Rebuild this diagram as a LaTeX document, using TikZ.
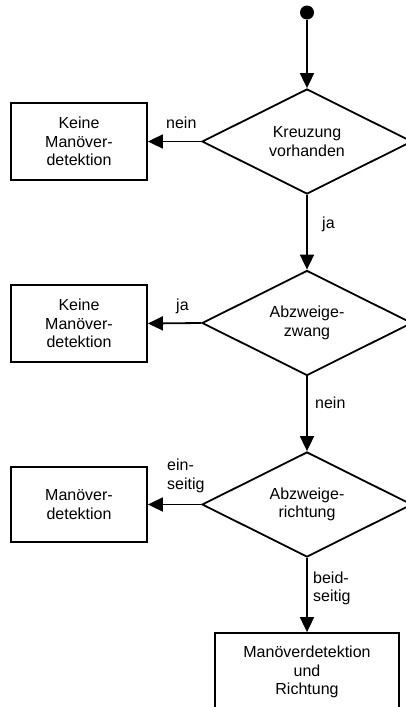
\documentclass[tikz,border=0pt]{standalone}
\usepackage{fontspec}
\setmainfont{Liberation Sans}
\usetikzlibrary{shapes.geometric,arrows.meta}

\tikzset{
  flow/.style={line width=1.8pt},
  decision/.style={flow, draw, diamond, aspect=2, minimum width=210pt,
    minimum height=105pt, inner sep=0pt, align=center},
  action/.style={flow, draw, rectangle, inner sep=0pt, align=center},
  conn/.style={flow, -{Triangle[length=15pt,width=14pt]}},
  lbl/.style={inner sep=0pt, align=left},
}

\begin{document}
\begin{tikzpicture}[x=1pt,y=-1pt,
  every node/.append style={font=\fontsize{16}{18.5}\selectfont}]
  \useasboundingbox (0,0) rectangle (406,707);
  \clip (0,0) rectangle (406,707);

  % start point
  \node[circle, fill=black, minimum size=14pt, inner sep=0pt] (start) at (307,12.5) {};

  % decisions
  \node[decision] (d1) at (307,141.5) {Kreuzung\\vorhanden};
  \node[decision] (d2) at (307,323) {Abzweige-\\zwang};
  \node[decision] (d3) at (307,504.5) {Abzweige-\\richtung};

  % outcomes
  \node[action, minimum width=136pt, minimum height=77pt] (b1) at (79,141.5)
    {Keine\\Manöver-\\detektion};
  \node[action, minimum width=136pt, minimum height=77pt] (b2) at (79,323.5)
    {Keine\\Manöver-\\detektion};
  \node[action, minimum width=136pt, minimum height=75pt] (b3) at (79,504.5)
    {Manöver-\\detektion};
  \node[action, minimum width=184pt, minimum height=78pt] (b4) at (307,672)
    {Manöverdetektion\\und\\Richtung};

  % connectors
  \draw[conn] (start) -- (d1.north);
  \draw[conn] (d1.west) -- (b1.east);
  \draw[conn] (d1.south) -- (d2.north);
  \draw[conn] (d2.west) -- (b2.east);
  \draw[conn] (d2.south) -- (d3.north);
  \draw[conn] (d3.west) -- (b3.east);
  \draw[conn] (d3.south) -- (b4.north);

  % branch labels (base = baseline of the last line)
  \node[lbl, anchor=base west] (l1) at (166,128) {nein};
  \node[lbl, anchor=base west] (l2) at (322,228) {ja};
  \node[lbl, anchor=base west] (l3) at (176,310) {ja};
  \node[lbl, anchor=base west] (l4) at (315,408) {nein};
  \node[lbl, anchor=base west] (l5) at (167,489) {ein-\\seitig};
  \node[lbl, anchor=base west] (l6) at (313,601.5) {beid-\\seitig};
\end{tikzpicture}
\end{document}
